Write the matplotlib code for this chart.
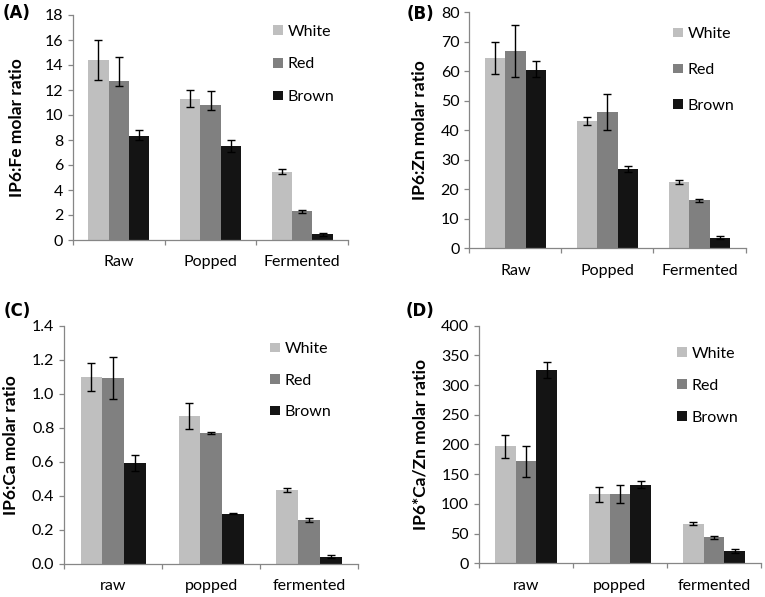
import numpy as np
import matplotlib
matplotlib.use("Agg")
import matplotlib.pyplot as plt
from matplotlib.patches import Patch

plt.rcParams['font.family'] = ['Lato', 'DejaVu Sans']

series = ["White", "Red", "Brown"]
colors = ["#BFBFBF", "#808080", "#141414"]

cats_upper = ["Raw", "Popped", "Fermented"]
cats_lower = ["raw", "popped", "fermented"]

# Panel A: IP6:Fe
a_vals = [[14.38, 11.29, 5.48], [12.73, 10.84, 2.29], [8.36, 7.56, 0.45]]
a_lo = [[12.78, 10.65, 5.32], [12.35, 10.41, 2.16], [7.99, 7.08, 0.32]]
a_hi = [[16.0, 11.98, 5.67], [14.64, 11.9, 2.42], [8.79, 8.01, 0.56]]

# Panel B: IP6:Zn
b_vals = [[64.6, 43.05, 22.4], [67.0, 46.2, 16.3], [60.6, 26.9, 3.6]]
b_lo = [[59.2, 41.7, 21.8], [58.2, 40.0, 15.8], [57.9, 26.0, 3.05]]
b_hi = [[70.1, 44.6, 23.05], [75.8, 52.4, 16.7], [63.6, 27.8, 4.3]]

# Panel C: IP6:Ca
c_vals = [[1.096, 0.869, 0.433], [1.09, 0.767, 0.257], [0.59, 0.294, 0.041]]
c_lo = [[1.016, 0.792, 0.424], [0.967, 0.761, 0.245], [0.543, 0.29, 0.035]]
c_hi = [[1.179, 0.943, 0.443], [1.216, 0.776, 0.269], [0.639, 0.298, 0.049]]

# Panel D: IP6*Ca/Zn
d_vals = [[197, 116, 66.2], [171.7, 116.7, 43.8], [325, 131.8, 20.2]]
d_lo = [[177.8, 103.7, 64], [145.3, 101.5, 41.4], [312, 126, 16.8]]
d_hi = [[216, 129, 69], [198, 132.3, 46], [338.4, 138.6, 24.6]]

W, H = 765, 597
fig = plt.figure(figsize=(W / 100, H / 100), dpi=100)

def px_axes(left, right, top, bottom):
    return fig.add_axes([left / W, 1 - bottom / H, (right - left) / W, (bottom - top) / H])

panels = [
    dict(box=(73, 348, 15, 240), vals=a_vals, lo=a_lo, hi=a_hi, cats=cats_upper,
         ymax=18, step=2, fmt="{:.0f}", ylabel="IP6:Fe molar ratio", tag="(A)",
         tagpos=(17, 13), ylabx=17, leg=(273, 64.5, 32.5)),
    dict(box=(469.3, 745.5, 12.3, 248.3), vals=b_vals, lo=b_lo, hi=b_hi, cats=cats_upper,
         ymax=80, step=10, fmt="{:.0f}", ylabel="IP6:Zn molar ratio", tag="(B)",
         tagpos=(420, 14), ylabx=420, leg=(673, 70, 35.5)),
    dict(box=(64.3, 358, 325.7, 563.7), vals=c_vals, lo=c_lo, hi=c_hi, cats=cats_lower,
         ymax=1.4, step=0.2, fmt="{:.1f}", ylabel="IP6:Ca molar ratio", tag="(C)",
         tagpos=(17, 311), ylabx=11, leg=(270, 380.7, 31.3)),
    dict(box=(479, 761, 325.7, 563.3), vals=d_vals, lo=d_lo, hi=d_hi, cats=cats_lower,
         ymax=400, step=50, fmt="{:.0f}", ylabel="IP6*Ca/Zn molar ratio", tag="(D)",
         tagpos=(420, 311), ylabx=420, leg=(677, 385.7, 31.7)),
]

axis_col = "#868686"
bw = 1 / 4.5
fs = 11.5
fs_px = fs * 100 / 72
text_h = 0.86 * fs_px
for p in panels:
    ax = px_axes(*p["box"])
    x = np.arange(3) + 0.5
    for i in range(3):
        v = np.array(p["vals"][i])
        lo = v - np.array(p["lo"][i])
        hi = np.array(p["hi"][i]) - v
        ax.bar(x + (i - 1) * bw, v, width=bw, color=colors[i], linewidth=0, zorder=2)
        ax.errorbar(x + (i - 1) * bw, v, yerr=[lo, hi], fmt="none", ecolor="black",
                    elinewidth=1.0, capsize=2.9, capthick=1.0, zorder=3)
    ax.set_xlim(0, 3)
    ax.set_ylim(0, p["ymax"])
    yt = np.arange(0, p["ymax"] + p["step"] / 2, p["step"])
    ax.set_yticks(yt)
    ax.set_yticklabels([p["fmt"].format(t) for t in yt])
    ax.set_xticks([0, 1, 2, 3])
    ax.set_xticklabels([])
    ax.set_xticks(x, minor=True)
    ax.set_xticklabels(p["cats"], minor=True)
    for s in ["top", "right"]:
        ax.spines[s].set_visible(False)
    for s in ["left", "bottom"]:
        ax.spines[s].set_color(axis_col)
        ax.spines[s].set_linewidth(0.9)
    ax.tick_params(axis="y", which="major", direction="out", length=3.6, width=0.9,
                   color=axis_col, labelsize=fs, pad=3.5, labelcolor="black")
    ax.tick_params(axis="x", which="major", direction="out", length=3.6, width=0.9,
                   color=axis_col)
    ax.tick_params(axis="x", which="minor", length=0, labelsize=fs, pad=11,
                   labelcolor="black")
    ax.set_ylabel(p["ylabel"], fontsize=12.5, fontweight="bold")
    ax.yaxis.set_label_coords(p["ylabx"] / W, 1 - (p["box"][2] + p["box"][3]) / 2 / H,
                              transform=fig.transFigure)
    ax.yaxis.label.set_va("center")
    fig.text(p["tagpos"][0] / W, 1 - p["tagpos"][1] / H, p["tag"], fontsize=12,
             fontweight="bold", family="DejaVu Sans", ha="center", va="center")
    handles = [Patch(facecolor=c, edgecolor="none") for c in colors]
    lx, ly, spacing = p["leg"]
    ls = (spacing - text_h) / fs_px
    ax.legend(handles, series, loc="center left",
              bbox_to_anchor=(lx / W, 1 - ly / H), bbox_transform=fig.transFigure,
              frameon=False, fontsize=fs, handlelength=0.6, handleheight=0.55,
              handletextpad=0.3, borderpad=0, borderaxespad=0, labelspacing=ls)

fig.savefig("out.png", dpi=100)
